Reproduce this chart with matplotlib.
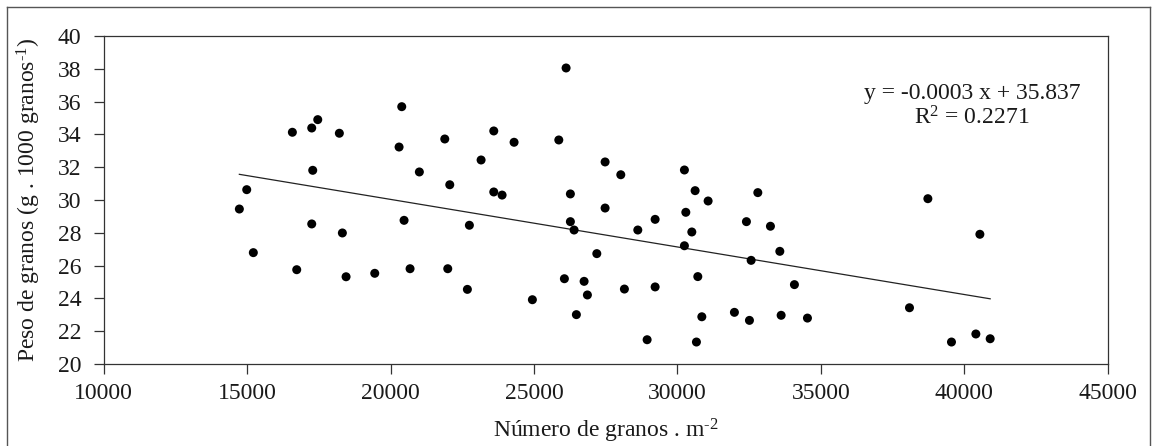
import numpy as np
import matplotlib
matplotlib.use("Agg")
import matplotlib.pyplot as plt
from matplotlib.lines import Line2D

plt.rcParams["font.family"] = ["Liberation Serif", "DejaVu Serif"]
plt.rcParams["mathtext.fontset"] = "custom"
plt.rcParams["mathtext.rm"] = "Liberation Serif"
plt.rcParams["mathtext.it"] = "Liberation Serif:italic"

# Grain number per m2 and 1000-grain weight
numero_granos = [
    14729, 14986, 15216, 16577, 16729, 17252, 17462, 17287, 17252, 18215,
    18320, 18449, 19449, 20390, 20297, 21004, 20471, 20680, 21890, 22064,
    21994, 22748, 22678, 23156, 23598, 23598, 23888, 24306, 24944, 25865,
    26119, 26269, 26269, 26398, 26060, 26478, 26747, 26862, 27190, 27479,
    27479, 28026, 28152, 28619, 28944, 29223, 29223, 30244, 30293, 30244,
    30617, 30502, 30711, 30851, 30663, 31070, 31987, 32406, 32570, 32511,
    32803, 33243, 33570, 33616, 34079, 34533, 38090, 38731, 39554, 40404,
    40544, 40903,
]
peso_granos = [
    29.45, 30.63, 26.79, 34.13, 25.75, 34.39, 34.90, 31.81, 28.54, 34.07,
    27.99, 25.32, 25.53, 35.69, 33.23, 31.71, 28.76, 25.81, 33.72, 30.93,
    25.81, 28.46, 24.55, 32.44, 34.21, 30.49, 30.30, 33.52, 23.92, 33.66,
    38.05, 30.37, 28.68, 28.17, 25.20, 23.01, 25.04, 24.21, 26.73, 32.32,
    29.51, 31.54, 24.57, 28.17, 21.48, 28.82, 24.70, 31.83, 29.25, 27.21,
    30.57, 28.05, 25.33, 22.88, 21.34, 29.94, 23.15, 28.68, 26.32, 22.66,
    30.45, 28.40, 26.87, 22.97, 24.84, 22.80, 23.43, 30.08, 21.34, 21.83,
    27.91, 21.54,
]

# Linear trend line coefficients
slope = -0.00029
intercept = 35.837
r_squared = 0.2271

x_ticks = [10000, 15000, 20000, 25000, 30000, 35000, 40000, 45000]
y_ticks = [20, 22, 24, 26, 28, 30, 32, 34, 36, 38, 40]

FS = 17
TXT = "#1a1a1a"

fig = plt.figure(figsize=(11.54, 4.46), dpi=100)
ax = fig.add_axes([103.7 / 1154, 1 - 364 / 446, 1004 / 1154, 328 / 446])

x = np.array(numero_granos, dtype=float)
y = np.array(peso_granos, dtype=float)
ax.scatter(x, y, s=42, color="black", edgecolors="none", zorder=3)

xl = np.array([x.min(), x.max()])
ax.plot(xl, slope * xl + intercept, color="#222222", lw=0.9, zorder=2)

ax.set_xlim(10000, 45000)
ax.set_ylim(20, 40)
ax.set_xticks(x_ticks)
ax.set_yticks(y_ticks)
ax.tick_params(direction="out", length=7, width=0.9, colors="#333333",
               labelsize=FS, labelcolor=TXT)
ax.tick_params(axis="x", pad=7)
ax.tick_params(axis="y", pad=9)
for sp in ax.spines.values():
    sp.set_color("#333333")
    sp.set_linewidth(0.9)

ax.set_xlabel("Número de granos . m$^{\\mathregular{\u2010}2}$", fontsize=FS,
              color=TXT, labelpad=9)
ax.set_ylabel("Peso de granos (g . 1000 granos$^{\\mathregular{\u2010}1}$)",
              fontsize=FS, color=TXT, labelpad=11)

eq_text = (f"y = {slope:.4f} x + {intercept:.3f}\n"
           f"R$^{{\\mathregular{{2}}}}$ = {r_squared:.4f}")
fig.text(972 / 1154, 1 - 106 / 446, eq_text, ha="center", va="center",
         fontsize=FS, color=TXT, linespacing=1.15)

# Outer frame (open at the bottom)
frame_color = "#555555"
fig.add_artist(Line2D([7 / 1154, 7 / 1154], [0, 1 - 7 / 446], transform=fig.transFigure,
                      color=frame_color, lw=1.0))
fig.add_artist(Line2D([7 / 1154, 1150 / 1154], [1 - 7 / 446, 1 - 7 / 446],
                      transform=fig.transFigure, color=frame_color, lw=1.0))
fig.add_artist(Line2D([1150 / 1154, 1150 / 1154], [0, 1 - 7 / 446],
                      transform=fig.transFigure, color=frame_color, lw=1.0))

fig.savefig("out.png", dpi=100)
